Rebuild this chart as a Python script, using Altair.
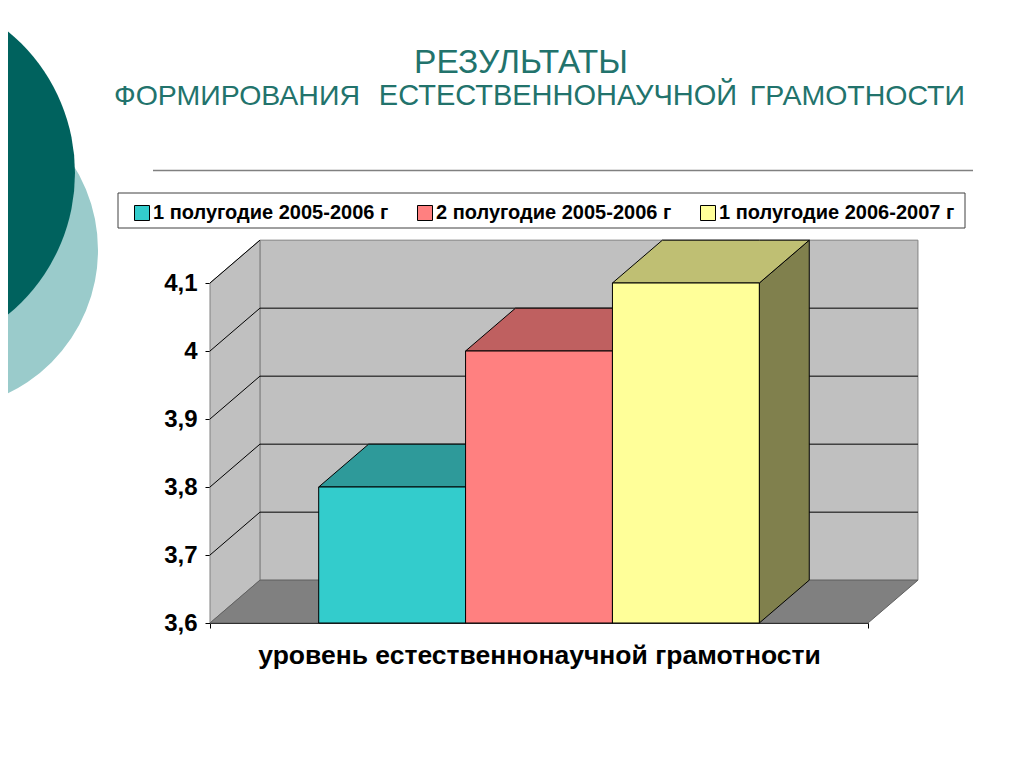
import altair as alt
import pandas as pd

# ---------------- data ----------------
series = ["1 полугодие 2005-2006 г", "2 полугодие 2005-2006 г", "1 полугодие 2006-2007 г"]
values = [3.8, 4.0, 4.1]
front_colors = ["#33CCCC", "#FF8080", "#FFFF99"]
top_colors = ["#2E9A9A", "#BF6060", "#BFBF73"]
side_colors = ["#1A6666", "#804040", "#80804D"]
tick_values = [3.6, 3.7, 3.8, 3.9, 4.0, 4.1]
tick_labels = ["3,6", "3,7", "3,8", "3,9", "4", "4,1"]
x_title = "уровень естественнонаучной грамотности"
title_main = "РЕЗУЛЬТАТЫ"
title_words = ["ФОРМИРОВАНИЯ", "ЕСТЕСТВЕННОНАУЧНОЙ", "ГРАМОТНОСТИ"]

# ---------------- geometry / style ----------------
Y_MIN, Y_MAX = tick_values[0], tick_values[-1]
X_MIN, X_MAX = -0.74, 3.74      # category band in units of one bar width
DX, DY = 0.34, 0.063            # oblique depth offset (x units, value units)
FONT = "Liberation Sans, Arial, sans-serif"
TEAL = "#22736C"

xs = alt.Scale(domain=[X_MIN, X_MAX], nice=False, zero=False)
ys = alt.Scale(domain=[Y_MIN, Y_MAX], nice=False, zero=False)

label_expr = "".join(
    f"abs(datum.value - {v}) < 0.001 ? '{l}' : " for v, l in zip(tick_values, tick_labels)
) + "''"

AX = alt.Axis(
    values=[X_MIN, X_MAX], labels=False, ticks=True, tickSize=5, tickColor="black",
    domainColor="black", grid=False, title=x_title, titleFont=FONT, titleFontSize=26.5,
    titleFontWeight="bold", titleColor="black", titlePadding=14)
AY = alt.Axis(
    values=tick_values, labelExpr=label_expr, labelFont=FONT, labelFontSize=24,
    labelFontWeight="bold", labelColor="black", tickSize=5, tickColor="black",
    domainColor="black", grid=False, title=None, labelPadding=8)


def X(f):
    return alt.X(f, type="quantitative", scale=xs, axis=AX)


def Y(f):
    return alt.Y(f, type="quantitative", scale=ys, axis=AY, stack=None)


# ---------------- tables ----------------
bars_df = pd.DataFrame({
    "series": series,
    "x": [i for i in range(len(series))],
    "x2": [i + 1 for i in range(len(series))],
    "y": values,
    "y2": [Y_MIN] * len(series),
})

top_rows, side_rows = [], []
for i, (s, v) in enumerate(zip(series, values)):
    for (x, a, b) in [(i, v, v), (i + DX, v, v + DY), (i + 1, v, v + DY), (i + 1 + DX, v + DY, v + DY)]:
        top_rows.append({"series": s, "x": x, "y": a, "y2": b, "fill": top_colors[i]})
    for (x, a, b) in [(i + 1, Y_MIN, v), (i + 1 + DX, Y_MIN + DY, v + DY)]:
        side_rows.append({"series": s, "x": x, "y": a, "y2": b, "fill": side_colors[i]})
top_df = pd.DataFrame(top_rows)
side_df = pd.DataFrame(side_rows)

back_df = pd.DataFrame({"x": [X_MIN + DX], "x2": [X_MAX + DX], "y": [Y_MIN + DY], "y2": [Y_MAX + DY]})
left_df = pd.DataFrame({"x": [X_MIN, X_MIN + DX], "y": [Y_MIN, Y_MIN + DY], "y2": [Y_MAX, Y_MAX + DY]})
floor_df = pd.DataFrame({
    "x": [X_MIN, X_MIN + DX, X_MAX, X_MAX + DX],
    "y": [Y_MIN, Y_MIN, Y_MIN, Y_MIN + DY],
    "y2": [Y_MIN, Y_MIN + DY, Y_MIN + DY, Y_MIN + DY],
})
grid_back_df = pd.DataFrame({"x": X_MIN + DX, "x2": X_MAX + DX, "y": [v + DY for v in tick_values[1:-1]]})
grid_left_df = pd.DataFrame({"x": X_MIN, "x2": X_MIN + DX,
                             "y": tick_values[1:], "y2": [v + DY for v in tick_values[1:]]})

one = pd.DataFrame({"k": [0]})

# ---------------- decoration ----------------
circle_light = alt.Chart(one).mark_point(
    shape="circle", filled=True, size=101124, color="#9ACBCB", opacity=1, strokeWidth=0, clip=False
).encode(x=alt.value(-271), y=alt.value(-33))
circle_dark = alt.Chart(one).mark_point(
    shape="circle", filled=True, size=133956, color="#00625E", opacity=1, strokeWidth=0, clip=False
).encode(x=alt.value(-318), y=alt.value(-110))

title1 = alt.Chart(one).mark_text(
    text=title_main, font=FONT, fontSize=33.5, color=TEAL, align="center", baseline="alphabetic", clip=False
).encode(x=alt.value(311), y=alt.value(-210))
tw1 = alt.Chart(one).mark_text(
    text=title_words[0], font=FONT, fontSize=28.5, color=TEAL, align="left", baseline="alphabetic", clip=False
).encode(x=alt.value(-96), y=alt.value(-178))
tw2 = alt.Chart(one).mark_text(
    text=title_words[1], font=FONT, fontSize=29, color=TEAL, align="center", baseline="alphabetic", clip=False
).encode(x=alt.value(348), y=alt.value(-178))
tw3 = alt.Chart(one).mark_text(
    text=title_words[2], font=FONT, fontSize=28.5, color=TEAL, align="right", baseline="alphabetic", clip=False
).encode(x=alt.value(755), y=alt.value(-178))
hline = alt.Chart(one).mark_rule(color="#808080", strokeWidth=1.5, clip=False).encode(
    x=alt.value(-57), x2=alt.value(763), y=alt.value(-112.5))
legend_box = alt.Chart(one).mark_rect(fill="white", stroke="#404040", strokeWidth=1, clip=False).encode(
    x=alt.value(-92), x2=alt.value(755), y=alt.value(-90), y2=alt.value(-55))

# ---------------- 3D frame ----------------
back = alt.Chart(back_df).mark_rect(fill="#C0C0C0", stroke="#808080", strokeWidth=1, clip=False).encode(
    x=X("x"), x2="x2", y=Y("y"), y2="y2")
leftwall = alt.Chart(left_df).mark_area(fill="#C0C0C0", stroke="#808080", strokeWidth=1, clip=False).encode(
    x=X("x"), y=Y("y"), y2="y2")
floor = alt.Chart(floor_df).mark_area(fill="#808080", stroke="#606060", strokeWidth=1, clip=False).encode(
    x=X("x"), y=Y("y"), y2="y2")
grid_back = alt.Chart(grid_back_df).mark_rule(color="black", strokeWidth=1, clip=False).encode(
    x=X("x"), x2="x2", y=Y("y"))
grid_left = alt.Chart(grid_left_df).mark_rule(color="black", strokeWidth=1, clip=False).encode(
    x=X("x"), x2="x2", y=Y("y"), y2="y2")

# ---------------- bars ----------------
sides = alt.Chart(side_df).mark_area(stroke="black", strokeWidth=1, clip=False).encode(
    x=X("x"), y=Y("y"), y2="y2", fill=alt.Fill("fill:N", scale=None), detail="series:N")
tops = alt.Chart(top_df).mark_area(stroke="black", strokeWidth=1, clip=False).encode(
    x=X("x"), y=Y("y"), y2="y2", fill=alt.Fill("fill:N", scale=None), detail="series:N")
fronts = alt.Chart(bars_df).mark_rect(stroke="black", strokeWidth=1, clip=False).encode(
    x=X("x"), x2="x2", y=Y("y"), y2="y2",
    color=alt.Color("series:N", scale=alt.Scale(domain=series, range=front_colors), legend=alt.Legend(
        orient="none", legendX=-78, legendY=-80, direction="horizontal", title=None,
        symbolType="square", symbolSize=225, symbolStrokeColor="black", symbolStrokeWidth=1,
        symbolOpacity=1, labelFont=FONT, labelFontSize=20, labelFontWeight="bold", labelColor="black",
        labelOffset=1, columnPadding=26, labelLimit=400, padding=0)),
)

chart = alt.layer(
    circle_light, circle_dark, title1, tw1, tw2, tw3, hline, legend_box,
    back, leftwall, floor, grid_back, grid_left, sides, tops, fronts,
).properties(
    width=658, height=340,
    autosize=alt.AutoSizeParams(type="none"),
    padding={"left": 202, "top": 275, "right": 140, "bottom": 130},
    background="white",
).configure_view(stroke=None)

chart.save("out.html", embed_options={"renderer": "svg", "actions": False})
